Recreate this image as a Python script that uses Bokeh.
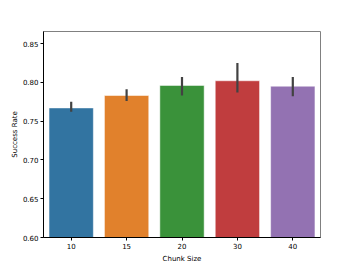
from bokeh.plotting import figure
from bokeh.models import FactorRange, Range1d, FixedTicker, NumeralTickFormatter
from bokeh.embed import file_html
from bokeh.resources import INLINE

chunk_sizes = ["10", "15", "20", "30", "40"]
success_rate = [0.767, 0.783, 0.796, 0.802, 0.795]
ci_low = [0.762, 0.776, 0.783, 0.787, 0.782]
ci_high = [0.775, 0.791, 0.807, 0.825, 0.807]
colors = ["#3274a1", "#e1812c", "#3a923a", "#c03d3e", "#9372b2"]
y_ticks = [0.60, 0.65, 0.70, 0.75, 0.80, 0.85]

p = figure(x_range=FactorRange(*chunk_sizes), y_range=Range1d(0.6, 0.8655),
           width=349, height=266, output_backend="svg", toolbar_location=None,
           min_border_left=43, min_border_right=29, min_border_top=31, min_border_bottom=29)

p.vbar(x=chunk_sizes, top=success_rate, bottom=0.6, width=0.8, fill_color=colors,
       line_color="white", line_alpha=0.5, line_width=1)
p.segment(x0=chunk_sizes, y0=ci_low, x1=chunk_sizes, y1=ci_high, line_color="#424242", line_width=2.2)

p.xgrid.visible = False
p.ygrid.visible = False
p.outline_line_color = "#808080"
p.outline_line_width = 1
p.background_fill_color = "white"
p.border_fill_color = "white"

p.yaxis.ticker = FixedTicker(ticks=y_ticks)
p.yaxis.formatter = NumeralTickFormatter(format="0.00")
for ax in (p.xaxis[0], p.yaxis[0]):
    ax.axis_line_color = "black"
    ax.axis_line_width = 1
    ax.major_tick_line_color = "black"
    ax.major_tick_out = 3
    ax.major_tick_in = 0
    ax.minor_tick_out = 0
    ax.minor_tick_in = 0
    ax.major_label_text_font = "DejaVu Sans"
    ax.major_label_text_font_size = "7px"
    ax.major_label_text_color = "black"
    ax.axis_label_text_font = "DejaVu Sans"
    ax.axis_label_text_font_size = "7px"
    ax.axis_label_text_font_style = "normal"
    ax.axis_label_text_color = "black"
    ax.major_label_standoff = 2
    ax.axis_label_standoff = 3
p.yaxis.axis_label_standoff = 1

p.xaxis.axis_label = "Chunk Size"
p.yaxis.axis_label = "Success Rate"

open("out.html", "w").write(file_html(p, INLINE))
